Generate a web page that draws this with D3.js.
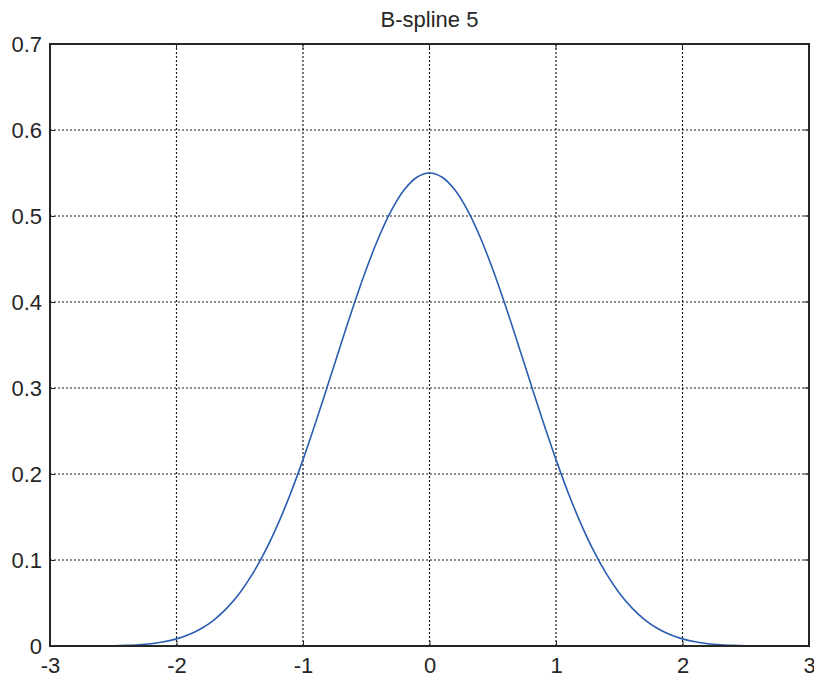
<!DOCTYPE html>
<html>
<head>
<meta charset="utf-8">
<title>B-spline 5</title>
<script src="https://cdn.jsdelivr.net/npm/d3@7"></script>
<style>
  body { margin: 0; background: #fff; }
  text { font-family: "Liberation Sans", Arial, Helvetica, sans-serif; fill: #262626; }
  .grid line { stroke: #1a1a1a; stroke-width: 1.2; stroke-dasharray: 2,2; }
  .frame { fill: none; stroke: #262626; stroke-width: 2; }
  .curve { fill: none; stroke: #2a5db0; stroke-width: 1.6; }
</style>
</head>
<body>
<div id="chart"></div>
<script>
// values, x from -3 to 0 step 0.1 (curve is symmetric)
var xTicks = [-3, -2, -1, 0, 1, 2, 3];
var yTicks = [0, 0.1, 0.2, 0.3, 0.4, 0.5, 0.6, 0.7];
var halfX = [-3, -2.9, -2.8, -2.7, -2.6, -2.5, -2.4, -2.3, -2.2, -2.1,
             -2, -1.9, -1.8, -1.7, -1.6, -1.5, -1.4, -1.3, -1.2, -1.1,
             -1, -0.9, -0.8, -0.7, -0.6, -0.5, -0.4, -0.3, -0.2, -0.1, 0];
var halfY = [0, 0, 0, 0, 0.0001, 0.0003, 0.0007, 0.0014, 0.0027, 0.0049,
             0.0083, 0.0134, 0.0207, 0.0308, 0.0443, 0.0617, 0.0835, 0.1099, 0.1411, 0.1768,
             0.2167, 0.2598, 0.3051, 0.3510, 0.3959, 0.4380, 0.4756, 0.5068, 0.5304, 0.5450, 0.55];

var points = halfX.map(function(x, i) { return [x, halfY[i]]; });
for (var i = halfX.length - 2; i >= 0; i--) points.push([-halfX[i], halfY[i]]);

var width = 814, height = 680;
var mLeft = 50, mRight = 809, mTop = 44, mBottom = 646;

var svg = d3.select("#chart").append("svg")
  .attr("width", width)
  .attr("height", height);

var x = d3.scaleLinear().domain([-3, 3]).range([mLeft, mRight]);
var y = d3.scaleLinear().domain([0, 0.7]).range([mBottom, mTop]);

// grid
var grid = svg.append("g").attr("class", "grid");
grid.selectAll(".gx").data(xTicks.slice(1, -1)).enter().append("line")
  .attr("x1", function(d) { return x(d); }).attr("x2", function(d) { return x(d); })
  .attr("y1", mTop).attr("y2", mBottom);
grid.selectAll(".gy").data(yTicks.slice(1, -1)).enter().append("line")
  .attr("y1", function(d) { return y(d); }).attr("y2", function(d) { return y(d); })
  .attr("x1", mLeft).attr("x2", mRight);

// curve
var line = d3.line()
  .x(function(d) { return x(d[0]); })
  .y(function(d) { return y(d[1]); })
  .curve(d3.curveCatmullRom);

svg.append("path")
  .datum(points)
  .attr("class", "curve")
  .attr("d", line);

// axes, ticks inward
var xAxis = svg.append("g")
  .attr("transform", "translate(0," + mBottom + ")")
  .call(d3.axisBottom(x).tickValues(xTicks).tickSizeInner(-5).tickSizeOuter(0).tickPadding(11)
    .tickFormat(function(d) { return String(d); }));
var yAxis = svg.append("g")
  .attr("transform", "translate(" + mLeft + ",0)")
  .call(d3.axisLeft(y).tickValues(yTicks).tickSizeInner(-5).tickSizeOuter(0).tickPadding(8)
    .tickFormat(function(d) { return d === 0 ? "0" : d3.format(".1f")(d); }));

[xAxis, yAxis].forEach(function(a) {
  a.select(".domain").remove();
  a.selectAll("line").attr("stroke", "#262626");
  a.selectAll("text").style("font-size", "22px").attr("fill", "#262626");
});

// top/right tick marks
svg.append("g").selectAll("line").data(xTicks).enter().append("line")
  .attr("x1", function(d) { return x(d); }).attr("x2", function(d) { return x(d); })
  .attr("y1", mTop).attr("y2", mTop + 5).attr("stroke", "#262626");
svg.append("g").selectAll("line").data(yTicks).enter().append("line")
  .attr("y1", function(d) { return y(d); }).attr("y2", function(d) { return y(d); })
  .attr("x1", mRight).attr("x2", mRight - 5).attr("stroke", "#262626");

svg.append("rect")
  .attr("class", "frame")
  .attr("x", mLeft).attr("y", mTop)
  .attr("width", mRight - mLeft).attr("height", mBottom - mTop);

svg.append("text")
  .attr("x", (mLeft + mRight) / 2)
  .attr("y", 27)
  .attr("text-anchor", "middle")
  .style("font-size", "22px")
  .text("B-spline 5");
</script>
</body>
</html>
